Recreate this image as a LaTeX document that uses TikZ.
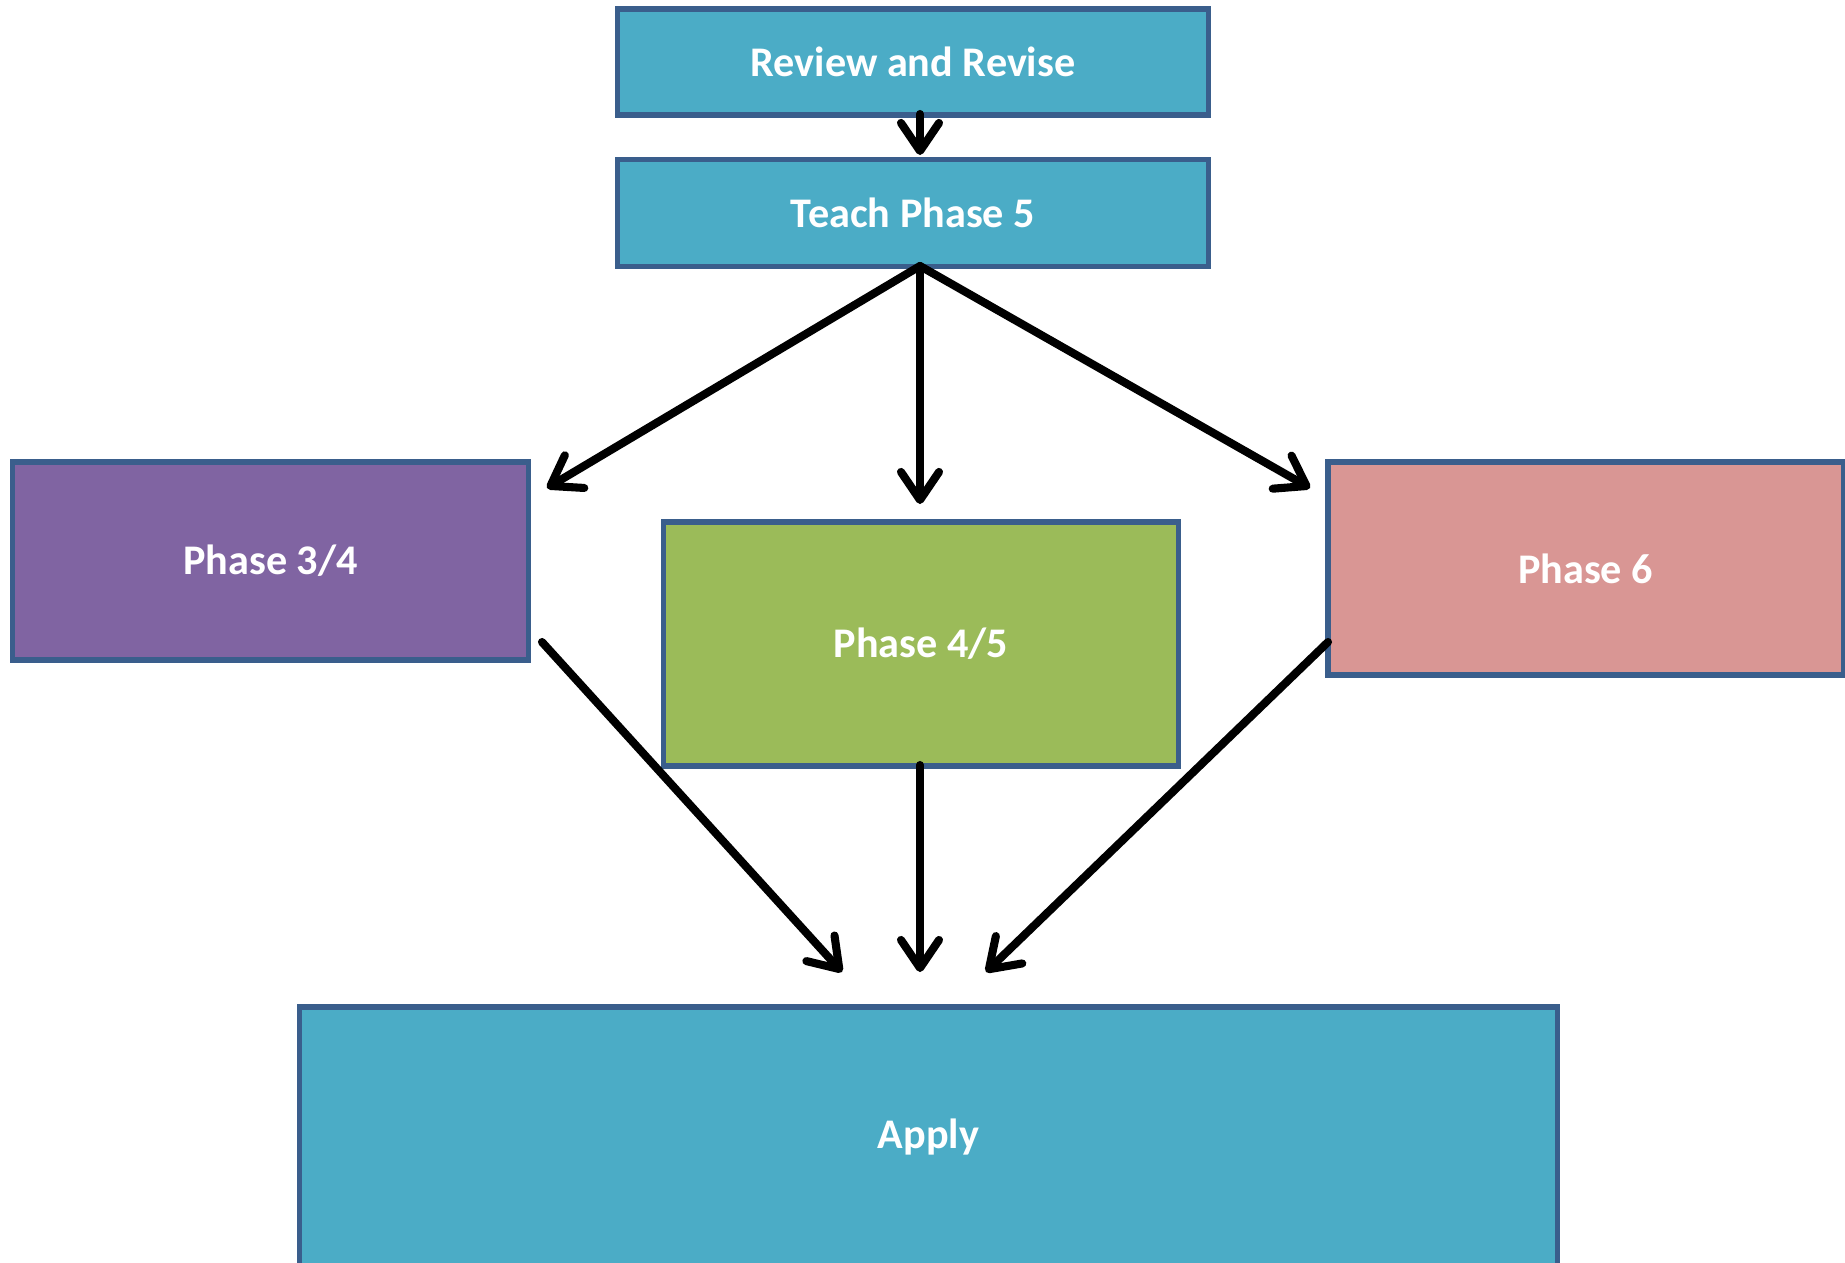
\documentclass[tikz,border=0pt]{standalone}
\usepackage{fontspec}
\setmainfont{Carlito}
\usetikzlibrary{arrows.meta}
\definecolor{boxTeal}{HTML}{4BACC6}
\definecolor{boxPurple}{HTML}{8064A2}
\definecolor{boxGreen}{HTML}{9BBB59}
\definecolor{boxPink}{HTML}{D99694}
\definecolor{boxEdge}{HTML}{3A5E8C}
\tikzset{
  phasebox/.style={draw=boxEdge, line width=1.5pt, text=white,
    font=\fontsize{12}{14}\selectfont\bfseries, inner sep=0pt},
  flow/.style={line width=2.3pt, line cap=round,
    -{Straight Barb[length=2.8mm,width=3.8mm,round]}}
}
\begin{document}
\begin{tikzpicture}[x=0.01cm,y=-0.01cm]
\useasboundingbox (0,0) rectangle (1845,1262);
\node[phasebox, fill=boxTeal, minimum width=5.9cm, minimum height=1.06cm] (review) at (913,62) {Review and Revise};
\node[phasebox, fill=boxTeal, minimum width=5.9cm, minimum height=1.07cm] (teach) at (913,213) {Teach Phase 5};
\node[phasebox, fill=boxPurple, minimum width=5.15cm, minimum height=1.98cm] (phaseA) at (270.5,561) {Phase 3/4};
\node[phasebox, fill=boxGreen, minimum width=5.14cm, minimum height=2.44cm] (phaseB) at (921,644) {Phase 4/5};
\node[phasebox, fill=boxPink, minimum width=5.15cm, minimum height=2.13cm] (phaseC) at (1585.5,568.5) {Phase 6};
\node[phasebox, fill=boxTeal, minimum width=12.57cm, minimum height=2.6cm] (apply) at (928.5,1137) {Apply};
% arrow ends
\coordinate (top) at (920,114);
\coordinate (topEnd) at (920,155);
\coordinate (fork) at (920,266);
\coordinate (tipA) at (547,488);
\coordinate (tipB) at (920,504);
\coordinate (tipC) at (1310,488);
\coordinate (fromA) at (542,642);
\coordinate (fromB) at (920,765);
\coordinate (fromC) at (1328,642);
\coordinate (endA) at (842,972);
\coordinate (endB) at (920,972);
\coordinate (endC) at (986,972);
\draw[flow] (top) -- (topEnd);
\draw[flow] (fork) -- (tipA);
\draw[flow] (fork) -- (tipB);
\draw[flow] (fork) -- (tipC);
\draw[flow] (fromA) -- (endA);
\draw[flow] (fromB) -- (endB);
\draw[flow] (fromC) -- (endC);
\end{tikzpicture}
\end{document}
